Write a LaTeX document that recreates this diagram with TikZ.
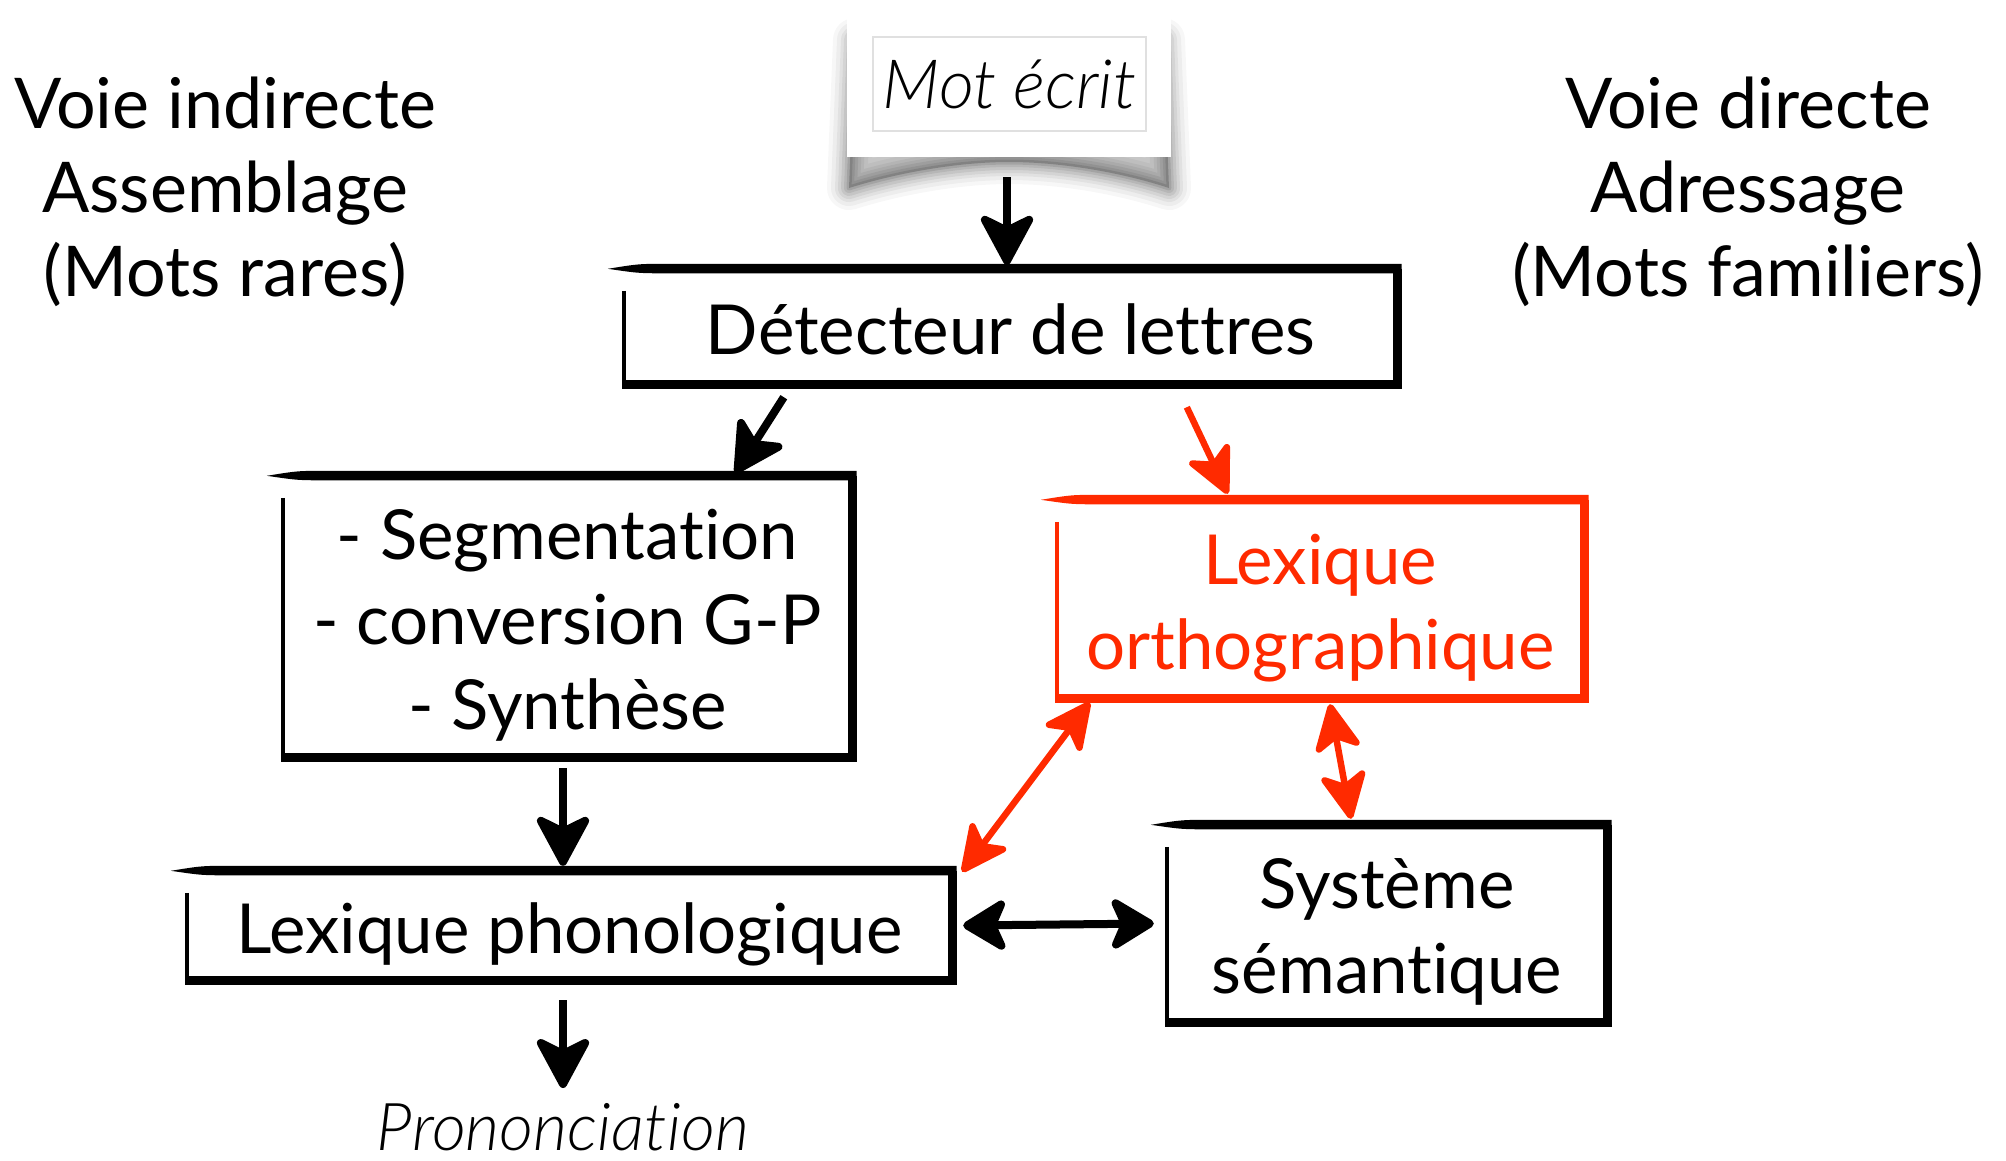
\documentclass[tikz,border=0pt]{standalone}
\usepackage{fontspec}
\setmainfont{Lato}[Ligatures=NoCommon]
\newfontfamily\lightit{Lato Light Italic}[Ligatures=NoCommon]
\usetikzlibrary{arrows.meta,calc}

\definecolor{ortho}{RGB}{255,42,0}

% fixed line extents so that every stage sets its lines at the same place
\newcommand\topstrut{\rule{0pt}{75pt}}
\newcommand\botstrut{\rule[-20pt]{0pt}{20pt}}

% Hand-drawn frame: thick top with a tapered left end, thick right and bottom, thin left side
\newcommand\sketchframe[2]{%
  \fill[#2] ($(#1.north west)+(-16,0)$)
    .. controls ($(#1.north west)+(15,-5)$) .. ($(#1.north west)+(45,-5)$)
    -- ($(#1.north east)+(4.5,-5)$) -- ($(#1.north east)+(4.5,4.5)$)
    -- ($(#1.north west)+(45,4.5)$)
    .. controls ($(#1.north west)+(15,4.5)$) .. cycle;
  \draw[#2, line width=9pt, line join=miter] (#1.north east) -- (#1.south east) -- ($(#1.south west)+(-1.5,0)$);
  \draw[#2, line width=3.5pt] ($(#1.north west)+(0,22)$) -- ($(#1.south west)+(0,-2)$);
}

\tikzset{
  stage/.style={inner sep=0pt, align=center, font=\fontsize{69}{85}\selectfont},
  sidetext/.style={inner sep=0pt, anchor=base, font=\fontsize{70}{84}\selectfont},
  blackhead/.tip={Stealth[length=58pt,width=62pt,inset=15pt,round]},
  smallhead/.tip={Stealth[length=50pt,width=60pt,inset=13pt,round]},
  redhead/.tip={Stealth[length=54pt,width=52pt,inset=14pt,round]},
  flow/.style={line width=8pt, -blackhead},
  redflow/.style={ortho, line width=6.5pt, -redhead},
  redboth/.style={ortho, line width=6.5pt, redhead-redhead},
  blackboth/.style={line width=8pt, smallhead-smallhead},
}

\begin{document}
\begin{tikzpicture}[x=1pt, y=-1pt]
\useasboundingbox (0,0) rectangle (2006,1160);

% side captions
\node[sidetext] (ind1) at (225,128) {Voie indirecte};
\node[sidetext] (ind2) at (225,212) {Assemblage};
\node[sidetext] (ind3) at (225,296) {(Mots rares)};
\node[sidetext] (dir1) at (1748,128) {Voie directe};
\node[sidetext] (dir2) at (1748,212) {Adressage};
\node[sidetext] (dir3) at (1748,296) {(Mots familiers)};

% written word on a lifted sheet
\foreach \w/\o in {44/0.03, 36/0.04, 28/0.05, 22/0.06, 16/0.07, 10/0.08, 5/0.1}{
  \draw[black, opacity=\o, line width=\w pt, line join=round]
    (855,40) -- (849,188) .. controls (900,172) and (960,162) .. (1009,162)
    .. controls (1060,162) and (1120,172) .. (1169,188) -- (1163,40) -- cycle;
}
\fill[black, opacity=0.2]
    (855,40) -- (849,188) .. controls (900,172) and (960,162) .. (1009,162)
    .. controls (1060,162) and (1120,172) .. (1169,188) -- (1163,40) -- cycle;
\node[fill=white, inner sep=0pt, minimum width=324pt, minimum height=144pt] (paper) at (1009,85) {};
\node[draw=black!12, line width=1.2pt, inner sep=0pt, minimum width=273pt, minimum height=94pt,
      font={\lightit\fontsize{68}{80}\selectfont}] (mot) at (1009.5,84) {Mot écrit};

% processing stages
\node[stage, minimum width=773pt, minimum height=115pt] (det) at (1010.5,326.5)
  {\topstrut Détecteur de lettres\botstrut};
\node[stage, minimum width=569pt, minimum height=281pt] (seg) at (567.5,616.5)
  {\topstrut - Segmentation\\- conversion G-P\\- Synthèse\botstrut};
\node[stage, text=ortho, minimum width=527pt, minimum height=198pt] (ort) at (1320.5,599)
  {\topstrut Lexique\\orthographique\botstrut};
\node[stage, minimum width=765pt, minimum height=109pt] (pho) at (569.5,925.5)
  {\topstrut Lexique phonologique\botstrut};
\node[stage, minimum width=440pt, minimum height=197pt] (sem) at (1387,923.5)
  {\topstrut Système\\sémantique\botstrut};
\node[inner sep=0pt, anchor=base, font={\lightit\fontsize{66}{80}\selectfont}] (pron) at (563,1150) {Prononciation};

\sketchframe{det}{black}
\sketchframe{seg}{black}
\sketchframe{ort}{ortho}
\sketchframe{pho}{black}
\sketchframe{sem}{black}

% connections
\draw[flow] ($(paper.south)+(-2,20)$) -- ($(det.north)+(-3.5,-4)$);
\draw[flow] ($(det.south west)+(160,13)$) -- ($(seg.north)+(168,-3)$);
\draw[redflow] ($(det.south west)+(563,23)$) -- ($(ort.north west)+(171,-6)$);
\draw[flow] ($(seg.south)+(-4.5,11)$) -- ($(pho.north)+(-6.5,-5)$);
\draw[flow] ($(pho.south)+(-6.5,20)$) -- ($(pron.base)+(0,-62)$);
\draw[redboth] ($(ort.south west)+(33,4)$) -- ($(pho.north east)+(10,1)$);
\draw[redboth] ($(ort.south)+(9.5,6)$) -- ($(sem.north)+(-36,-6)$);
\draw[blackboth] ($(pho.east)+(11,0)$) -- ($(sem.west)+(-13,0)$);
\end{tikzpicture}
\end{document}
